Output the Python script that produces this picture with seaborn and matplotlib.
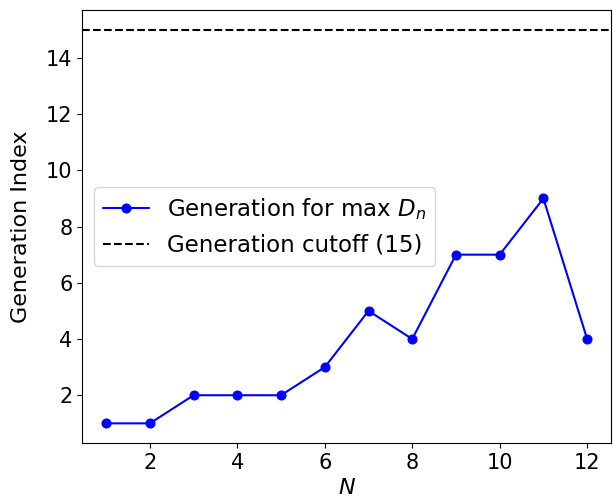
import pandas as pd
from matplotlib import pyplot as plt
import seaborn as sns

# Данные
n_values = [1, 2, 3, 4, 5, 6, 7, 8, 9, 10, 11, 12]
max_gen = [1, 1, 2, 2, 2, 3, 5, 4, 7, 7, 9, 4]
cutoff = 15

df = pd.DataFrame({"N": n_values, "gen": max_gen})

sns.set_style("ticks")
plt.rcParams['font.family'] = ['DejaVu Sans']
plt.rcParams['text.color'] = 'black'
plt.rcParams['axes.labelcolor'] = 'black'
plt.rcParams['xtick.color'] = 'black'
plt.rcParams['ytick.color'] = 'black'

fig = plt.figure(figsize=(6.13, 5.04), dpi=100)
ax = fig.add_axes([0.134, 0.121, 0.863, 0.859])

sns.lineplot(data=df, x="N", y="gen", marker="o", color="blue",
             markeredgecolor="blue", markersize=6.5, linewidth=1.5,
             label=r"Generation for max $D_n$", ax=ax)
ax.axhline(cutoff, color="black", linestyle="--", linewidth=1.5,
           label=f"Generation cutoff ({cutoff})")

ax.set_xticks([2, 4, 6, 8, 10, 12])
ax.set_yticks([2, 4, 6, 8, 10, 12, 14])
ax.set_ylim(0.3, 15.7)
ax.set_xlim(0.45, 12.55)
ax.tick_params(labelsize=15)
ax.set_xlabel(r"$N$", fontsize=16, labelpad=4)
ax.set_ylabel("Generation Index", fontsize=16, labelpad=11)
for s in ax.spines.values():
    s.set_color("black")
    s.set_linewidth(0.8)

ax.legend(loc="center left", fontsize=16.5, handlelength=2)

fig.savefig("out.png", dpi=100)
